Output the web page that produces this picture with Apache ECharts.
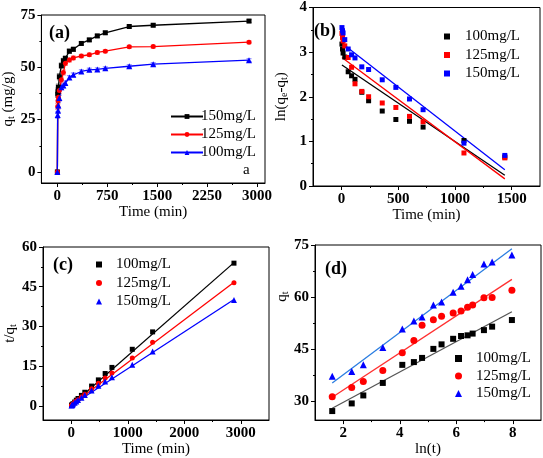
<!DOCTYPE html>
<html><head><meta charset="utf-8">
<script src="https://cdn.jsdelivr.net/npm/echarts@6/dist/echarts.min.js"></script>
<style>html,body{margin:0;padding:0;background:#fff}#c{width:543px;height:458px}</style>
</head><body><div id="c"></div>
<script>
// ---------- data ----------
const timeA = [0,5,10,15,30,60,90,120,180,240,360,480,600,720,1080,1440,2880];
const qA150 = [0,37.2,38.6,40.5,45.5,50.8,53.1,54.3,57.7,58.6,61.4,63.1,65.0,66.5,69.5,70.1,72.1];
const qA125 = [0,31.3,34.0,35.7,38.9,44.0,47.5,51.9,53.5,54.5,55.4,56.0,57.1,57.7,59.8,59.9,62.0];
const qA100 = [0,27.2,29.4,31.7,35.3,40.5,41.3,42.5,45.1,46.4,48.0,48.8,49.0,49.5,50.5,51.5,53.4];
const errA150 = [0,1.6,1.6,1.5,1.5,1.3,1.2,1.0,1.0,1.0,0.8,0.8,0.8,0.8,0.7,0.7,0.7];
const errA125 = [0,1.5,1.5,1.5,1.4,1.3,1.2,1.0,1.0,0.9,0.8,0.8,0.8,0.7,0.7,0.7,0.7];
const errA100 = [0,1.5,1.5,1.5,1.4,1.2,1.1,1.0,0.9,0.9,0.8,0.8,0.7,0.7,0.7,0.7,0.7];

const timeB = [5,10,15,30,60,90,120,180,240,360,480,600,720,1080,1440];
const lnB100 = [3.18,3.07,2.98,2.89,2.56,2.47,2.39,2.10,1.91,1.68,1.49,1.45,1.32,1.02,0.65];
const lnB125 = [3.42,3.33,3.25,3.14,2.88,2.66,2.29,2.12,2.00,1.86,1.76,1.56,1.44,0.74,0.63];
const lnB150 = [3.55,3.48,3.43,3.28,3.07,2.94,2.87,2.67,2.61,2.38,2.21,1.95,1.71,0.96,0.685];
const fitB100 = [[5,2.71],[1440,0.24]];
const fitB125 = [[5,2.88],[1440,0.16]];
const fitB150 = [[5,3.20],[1440,0.365]];

const timeC = [5,10,15,30,60,90,120,180,240,360,480,600,720,1080,1440,2880];
const tqC100 = [0.18,0.34,0.47,0.85,1.48,2.18,2.82,3.99,5.17,7.50,9.84,12.24,14.55,21.39,27.96,53.9];
const tqC125 = [0.16,0.29,0.42,0.77,1.36,1.89,2.31,3.36,4.40,6.50,8.57,10.51,12.48,18.06,24.04,46.5];
const tqC150 = [0.13,0.26,0.37,0.66,1.18,1.69,2.21,3.12,4.10,5.86,7.61,9.23,10.83,15.54,20.54,40.0];
const fitC100 = [[0,0.3],[2880,54.1]];
const fitC125 = [[0,0.25],[2880,46.7]];
const fitC150 = [[0,0.2],[2880,40.2]];

const lnT = [1.61,2.30,2.71,3.40,4.09,4.50,4.79,5.19,5.48,5.89,6.17,6.40,6.58,6.98,7.27,7.97];
const qD100 = [27.2,29.4,31.7,35.3,40.5,41.3,42.5,45.1,46.4,48.0,48.8,49.0,49.5,50.5,51.5,53.4];
const qD125 = [31.3,34.0,35.7,38.9,44.0,47.5,51.9,53.5,54.5,55.4,56.0,57.1,57.7,59.8,59.9,62.0];
const qD150 = [37.2,38.6,40.5,45.5,50.8,53.1,54.3,57.7,58.6,61.4,63.1,65.0,66.5,69.5,70.1,72.1];
const fitD100 = [[1.61,28.0],[7.97,55.8]];
const fitD125 = [[1.61,31.2],[7.97,65.1]];
const fitD150 = [[1.61,35.3],[7.97,73.9]];

const legendNames = {a150:'150mg/L',a125:'125mg/L',a100:'100mg/L',
  b100:'100mg/L',b125:'125mg/L',b150:'150mg/L',
  c100:'100mg/L',c125:'125mg/L',c150:'150mg/L',
  d100:'100mg/L',d125:'125mg/L',d150:'150mg/L'};

// ---------- helpers ----------
const FONT = "'Liberation Serif','Times New Roman',serif";
const zip = (xs, ys) => xs.map((x, i) => [x, ys[i]]);
const zip3 = (xs, ys, es) => xs.map((x, i) => [x, ys[i], es[i]]);
const BLACK = '#000000', RED = '#ff0000', BLUE = '#0000ff';

const grids = [
  {left:41, top:15, width:224, height:168},
  {left:313, top:7, width:227, height:179},
  {left:43, top:247, width:226, height:173},
  {left:315, top:245, width:226, height:177}
].map(g => Object.assign(g, {show:true, borderColor:'#000', borderWidth:1, backgroundColor:'transparent'}));

const rich = {s:{fontSize:10, fontFamily:FONT, color:'#000', verticalAlign:'bottom', padding:[6,0,0,0]}};

function axisPair(dim, g, c) {
  const pos = dim === 'x' ? 'bottom' : 'left';
  const major = {
    type:'value', gridIndex:g, min:c.min, max:c.max, position:pos,
    axisLine:{show:true, onZero:false, lineStyle:{color:'#000', width:1}},
    axisTick:{show:true, inside:false, length:4, customValues:c.ticks, lineStyle:{color:'#000', width:1}},
    axisLabel:{show:true, customValues:c.ticks, margin:6, color:'#000', fontFamily:FONT, fontWeight:'bold', fontSize:15,
      formatter: v => String(v)},
    splitLine:{show:false},
    name:c.name, nameLocation:'middle', nameGap:c.gap,
    nameTextStyle:{fontFamily:FONT, fontSize:15, color:'#000', rich:rich, padding:c.pad || 0}
  };
  const minor = {
    type:'value', gridIndex:g, min:c.min, max:c.max, position:pos,
    axisLine:{show:false, onZero:false},
    axisTick:{show:true, inside:false, length:2, customValues:c.minor, lineStyle:{color:'#000', width:1}},
    axisLabel:{show:false}, splitLine:{show:false}
  };
  return [major, minor];
}

const xAxis = [].concat(
  axisPair('x', 0, {min:-240, max:3120, ticks:[0,750,1500,2250,3000], minor:[375,1125,1875,2625], name:'Time (min)', gap:19}),
  axisPair('x', 1, {min:-250, max:1750, ticks:[0,500,1000,1500], minor:[250,750,1250], name:'Time (min)', gap:22}),
  axisPair('x', 2, {min:-500, max:3500, ticks:[0,1000,2000,3000], minor:[500,1500,2500], name:'Time (min)', gap:21}),
  axisPair('x', 3, {min:1, max:9, ticks:[2,4,6,8], minor:[3,5,7], name:'ln(t)', gap:17})
);
const yAxis = [].concat(
  axisPair('y', 0, {min:-5.3, max:75, ticks:[0,25,50,75], minor:[12.5,37.5,62.5], name:'q{s|t} (mg/g)', gap:21}),
  axisPair('y', 1, {min:0, max:4, ticks:[0,1,2,3,4], minor:[0.5,1.5,2.5,3.5], name:'ln(q{s|e}-q{s|t})', gap:24}),
  axisPair('y', 2, {min:-5.3, max:60, ticks:[0,15,30,45,60], minor:[7.5,22.5,37.5,52.5], name:'t/q{s|t}', gap:21}),
  axisPair('y', 3, {min:24.6, max:75, ticks:[30,45,60,75], minor:[37.5,52.5,67.5], name:'q{s|t}', gap:24, pad:[0,0,0,72]})
);

function lineA(name, data, color, symbol, size) {
  return {name, type:'line', xAxisIndex:0, yAxisIndex:0, data, color,
    symbol, symbolSize:size, showSymbol:true, lineStyle:{width:1.3, color},
    itemStyle:{color}, animation:false, z:3};
}
function errA(data, color) {
  return {type:'custom', xAxisIndex:0, yAxisIndex:0, data, silent:true, z:2, animation:false,
    renderItem: (params, api) => {
      const x = api.value(0), y = api.value(1), e = api.value(2);
      if (!e) return null;
      const hi = api.coord([x, y + e]), lo = api.coord([x, y - e]);
      const w = 2.5;
      const st = {stroke:color, lineWidth:1};
      return {type:'group', children:[
        {type:'line', shape:{x1:hi[0], y1:hi[1], x2:lo[0], y2:lo[1]}, style:st},
        {type:'line', shape:{x1:hi[0]-w, y1:hi[1], x2:hi[0]+w, y2:hi[1]}, style:st},
        {type:'line', shape:{x1:lo[0]-w, y1:lo[1], x2:lo[0]+w, y2:lo[1]}, style:st}
      ]};
    }};
}
function scat(g, name, data, color, symbol, size) {
  return {name, type:'scatter', xAxisIndex:2*g, yAxisIndex:2*g, data, color,
    symbol, symbolSize:size, itemStyle:{color, opacity:1}, animation:false, z:3};
}
function fit(g, data, color) {
  return {type:'line', xAxisIndex:2*g, yAxisIndex:2*g, data, symbol:'none',
    lineStyle:{width:1.3, color}, animation:false, silent:true, z:2};
}

const series = [
  errA(zip3(timeA, qA150, errA150), '#8a8a8a'),
  errA(zip3(timeA, qA125, errA125), '#ff8a8a'),
  errA(zip3(timeA, qA100, errA100), '#7a7aff'),
  lineA('a150', zip(timeA, qA150), BLACK, 'rect', 5),
  lineA('a125', zip(timeA, qA125), RED, 'circle', 5),
  lineA('a100', zip(timeA, qA100), BLUE, 'triangle', 6),

  fit(1, fitB100, BLACK), fit(1, fitB125, RED), fit(1, fitB150, BLUE),
  scat(1, 'b100', zip(timeB, lnB100), BLACK, 'rect', 5),
  scat(1, 'b125', zip(timeB, lnB125), RED, 'rect', 5),
  scat(1, 'b150', zip(timeB, lnB150), BLUE, 'rect', 5),

  fit(2, fitC100, BLACK), fit(2, fitC125, RED), fit(2, fitC150, BLUE),
  scat(2, 'c100', zip(timeC, tqC100), BLACK, 'rect', 5),
  scat(2, 'c125', zip(timeC, tqC125), RED, 'circle', 5),
  scat(2, 'c150', zip(timeC, tqC150), BLUE, 'triangle', 6),

  fit(3, fitD100, '#555555'), fit(3, fitD125, '#ff3030'), fit(3, fitD150, '#2a7de1'),
  scat(3, 'd100', zip(lnT, qD100), BLACK, 'rect', 6),
  scat(3, 'd125', zip(lnT, qD125), RED, 'circle', 7),
  scat(3, 'd150', zip(lnT, qD150), BLUE, 'triangle', 7)
];

const legTxt = pad => ({fontFamily:FONT, fontSize:15, color:'#000', padding:[0,0,0,pad]});
const fmt = n => legendNames[n];
const legend = [
  {left:165, top:104, orient:'vertical', itemWidth:32, itemHeight:6, itemGap:3, data:['a150','a125','a100'], formatter:fmt, textStyle:legTxt(-7), selectedMode:false},
  {left:439, top:24, orient:'vertical', itemWidth:6, itemHeight:6, itemGap:3.5, data:['b100','b125','b150'], formatter:fmt, textStyle:legTxt(10), selectedMode:false},
  {left:91, top:252, orient:'vertical', itemWidth:6, itemHeight:6, itemGap:3.5, data:['c100','c125','c150'], formatter:fmt, textStyle:legTxt(9), selectedMode:false},
  {left:450, top:346, orient:'vertical', itemWidth:7, itemHeight:7, itemGap:2.5, data:['d100','d125','d150'], formatter:fmt, textStyle:legTxt(9), selectedMode:false}
];

const lab = (t, l, tp, bold, size) => ({type:'text', left:l, top:tp, z:10,
  style:{text:t, font:(bold ? 'bold ' : '') + size + 'px ' + FONT, fill:'#000'}});
const graphic = [
  lab('(a)', 49, 24, true, 18),
  lab('(b)', 314, 22, true, 18),
  lab('(c)', 53, 256, true, 18),
  lab('(d)', 325, 260, true, 18),
  lab('a', 243, 163, false, 15)
];

const chart = echarts.init(document.getElementById('c'), null, {renderer:'canvas'});
chart.setOption({animation:false, backgroundColor:'#fff', grid:grids, xAxis, yAxis, series, legend, graphic});
</script>
</body></html>
